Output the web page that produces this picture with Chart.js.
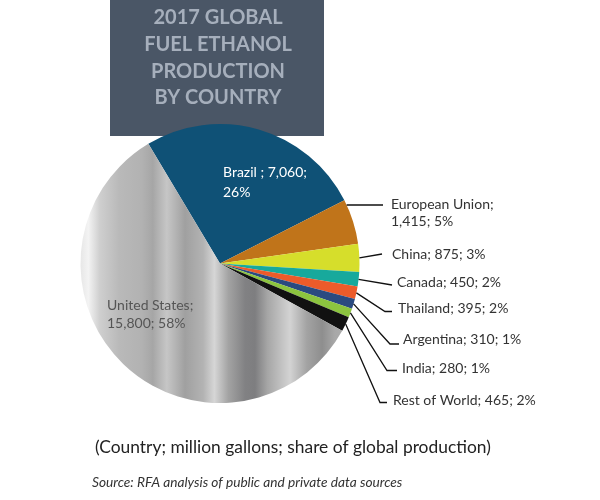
<!DOCTYPE html>
<html>
<head>
<meta charset="utf-8">
<script src="https://cdn.jsdelivr.net/npm/chart.js@4"></script>
<style>
  html,body{margin:0;padding:0;background:#fff;}
  #wrap{width:600px;height:500px;}
</style>
</head>
<body>
<div id="wrap"><canvas id="c" width="600" height="500"></canvas></div>
<script>
// ---- data ----
const categories = ['Brazil', 'European Union', 'China', 'Canada', 'Thailand', 'Argentina', 'India', 'Rest of World', 'United States'];
const gallons = [7060, 1415, 875, 450, 395, 310, 280, 465, 15800];   // million gallons
const shares = [26, 5, 3, 2, 2, 1, 1, 2, 58];                          // % of global production
const titleLines = ['2017 GLOBAL', 'FUEL ETHANOL', 'PRODUCTION', 'BY COUNTRY'];
const footNote = '(Country; million gallons; share of global production)';
const sourceNote = 'Source: RFA analysis of public and private data sources';

// ---- styles ----
const sliceColors = ['#0f5176', '#c0741a', '#d6de2b', '#17a99c', '#ec5b2a', '#2a4a80', '#8cc43f', '#111111', null];
const FONT = 'Lato, "Open Sans", sans-serif';

// label layout, offsets relative to pie centre (px); wrap: where the label breaks into two lines
const labelLayout = [
  {inside: true, tx: 3, ty: -91.5, lh: 20, wrap: 'value', color: '#ffffff'},
  {tx: 171, ty: -59.5, lh: 17, wrap: 'name', horiz: true, ex: 163, ey: -58.5, endX: 163},
  {tx: 172, ty: -9.5, ex: 162, ey: -9.5, endX: 162},
  {tx: 177, ty: 18.5, ex: 172, ey: 21.5, endX: 172},
  {tx: 178, ty: 44.5, ex: 165, ey: 48, endX: 172},
  {tx: 183, ty: 75.5, ex: 170, ey: 80.5, endX: 179},
  {tx: 182, ty: 104.5, ex: 167, ey: 107, endX: 177},
  {tx: 173, ty: 137, ex: 160, ey: 139, endX: 167},
  {inside: true, tx: -113, ty: 41.5, lh: 18, wrap: 'name', color: '#555555'}
];

function labelText(i) {
  const name = categories[i];
  const val = gallons[i].toLocaleString('en-US');
  const pct = shares[i] + '%';
  const w = labelLayout[i].wrap;
  if (w === 'name') return [name + ';', val + '; ' + pct];
  if (w === 'value') return [name + ' ; ' + val + ';', pct];
  return [name + '; ' + val + '; ' + pct];
}

function metalGradient(chart) {
  const area = chart.chartArea;
  if (!area) return '#b4b4b4';
  const g = chart.ctx.createLinearGradient(area.left, 0, area.right, 0);
  const stops = [
    [0.00, '#e6e6e6'], [0.03, '#f3f3f3'], [0.07, '#cfcfcf'], [0.14, '#b9b9b9'],
    [0.22, '#b2b2b2'], [0.26, '#a6a6a6'], [0.31, '#c6c6c6'], [0.375, '#a0a0a0'],
    [0.44, '#b3b3b3'], [0.48, '#d6d6d6'], [0.53, '#a3a3a3'], [0.59, '#818183'],
    [0.625, '#7e7e80'], [0.67, '#a6a6a6'], [0.75, '#d3d3d3'], [0.81, '#a3a3a3'],
    [0.865, '#8e8e8e'], [0.91, '#a8a8a8'], [1.00, '#b2b2b2']
  ];
  stops.forEach(s => g.addColorStop(s[0], s[1]));
  return g;
}

const overlay = {
  id: 'overlay',
  beforeDatasetsDraw(chart) {
    const ctx = chart.ctx;
    ctx.save();
    ctx.fillStyle = '#4a5666';
    ctx.fillRect(110, 0, 214, 136);
    ctx.fillStyle = '#a6afbc';
    ctx.font = 'bold 20px ' + FONT;
    ctx.textAlign = 'center';
    ctx.textBaseline = 'middle';
    titleLines.forEach((t, k) => ctx.fillText(t, 218, 18 + k * 26.6));
    ctx.restore();
  },
  afterDatasetsDraw(chart) {
    const ctx = chart.ctx;
    const meta = chart.getDatasetMeta(0);
    ctx.save();
    ctx.font = '14px ' + FONT;
    ctx.textBaseline = 'middle';
    ctx.textAlign = 'left';
    meta.data.forEach((arc, i) => {
      const p = arc.getProps(['x', 'y', 'startAngle', 'endAngle', 'outerRadius'], true);
      const L = labelLayout[i];
      const lines = labelText(i);
      const lh = L.lh || 17;
      if (!L.inside) {
        const mid = (p.startAngle + p.endAngle) / 2;
        let sx, sy;
        if (L.horiz) {
          sy = p.y + L.ey;
          sx = p.x + Math.sqrt(p.outerRadius * p.outerRadius - L.ey * L.ey);
        } else {
          sx = p.x + Math.cos(mid) * p.outerRadius;
          sy = p.y + Math.sin(mid) * p.outerRadius;
        }
        ctx.strokeStyle = '#111';
        ctx.lineWidth = 1.3;
        ctx.beginPath();
        ctx.moveTo(sx, sy);
        ctx.lineTo(p.x + L.ex, p.y + L.ey);
        ctx.lineTo(p.x + L.endX, p.y + L.ey);
        ctx.stroke();
      }
      ctx.fillStyle = L.color || '#333333';
      lines.forEach((t, k) => ctx.fillText(t, p.x + L.tx, p.y + L.ty + k * lh));
    });
    ctx.fillStyle = '#222';
    ctx.font = '17.4px ' + FONT;
    ctx.fillText(footNote, 95, 447);
    ctx.fillStyle = '#333';
    ctx.font = 'italic 13.7px ' + FONT;
    ctx.fillText(sourceNote, 92, 483);
    ctx.restore();
  }
};

new Chart(document.getElementById('c'), {
  type: 'pie',
  data: {
    labels: categories,
    datasets: [{
      data: gallons,
      backgroundColor: (c) => c.dataIndex === 8 ? metalGradient(c.chart) : sliceColors[c.dataIndex],
      borderWidth: 0
    }]
  },
  options: {
    responsive: false,
    animation: false,
    devicePixelRatio: 1,
    rotation: -30.9,
    layout: {padding: {left: 80, top: 124, right: 240, bottom: 97}},
    plugins: {legend: {display: false}, tooltip: {enabled: false}, title: {display: false}}
  },
  plugins: [overlay]
});
</script>
</body>
</html>
